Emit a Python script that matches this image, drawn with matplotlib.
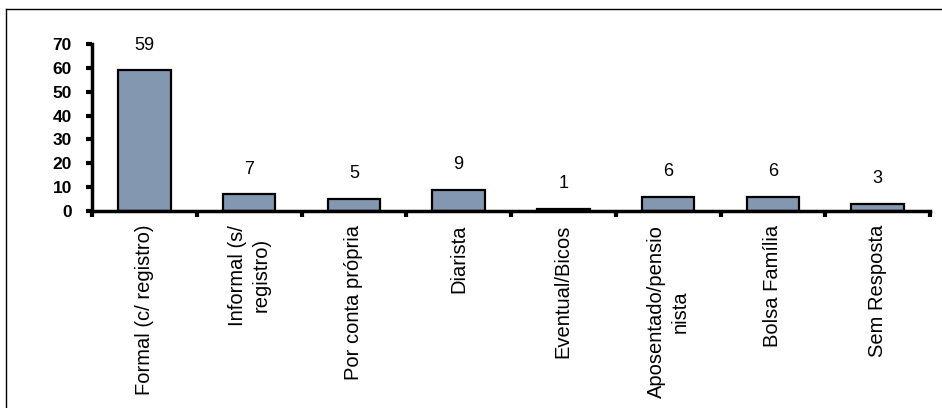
import matplotlib.pyplot as plt
import numpy as np
from matplotlib.lines import Line2D

plt.rcParams['font.family'] = ['Liberation Sans', 'DejaVu Sans']

categories = ['Formal (c/ registro)', 'Informal (s/\nregistro)', 'Por conta própria',
              'Diarista', 'Eventual/Bicos', 'Aposentado/pensio\nnista',
              'Bolsa Família', 'Sem Resposta']
values = [59, 7, 5, 9, 1, 6, 6, 3]
yticks = [0, 10, 20, 30, 40, 50, 60, 70]

W, H = 942, 408
fig = plt.figure(figsize=(W / 100, H / 100), dpi=100)
ax = fig.add_axes([92 / W, 1 - 211 / H, 838 / W, 167 / H])

x = np.arange(len(values))
ax.bar(x, values, width=0.5, color='#8497b0', edgecolor='black', linewidth=1.6, zorder=2)
for xi, v in zip(x, values):
    ax.annotate(str(v), (xi, v), xytext=(0, 12), textcoords='offset points',
                ha='center', va='bottom', fontsize=13)

ax.set_xlim(-0.5, len(values) - 0.5)
ax.set_ylim(0, 70)
ax.set_yticks(yticks)
ax.set_yticklabels([str(t) for t in yticks], fontsize=12.5, fontweight='bold')
ax.set_xticks(x)
ax.set_xticklabels(categories, rotation=90, fontsize=14.5, ha='center', va='top',
                   multialignment='center', linespacing=1.3)
ax.set_xticks(np.arange(len(values) + 1) - 0.5, minor=True)
ax.tick_params(axis='x', which='major', length=0, pad=10)
ax.tick_params(axis='x', which='minor', length=4, width=3, direction='out')
ax.tick_params(axis='y', length=4.5, width=3, direction='out', pad=10)

for s in ['top', 'right']:
    ax.spines[s].set_visible(False)
for s in ['left', 'bottom']:
    ax.spines[s].set_linewidth(2.5)
ax.spines['bottom'].set_zorder(3)

# outer frame of the chart area
fig.add_artist(Line2D([6 / W, 1], [1 - 9 / H, 1 - 9 / H], transform=fig.transFigure,
                      color='black', linewidth=1))
fig.add_artist(Line2D([6 / W, 6 / W], [0, 1 - 9 / H], transform=fig.transFigure,
                      color='black', linewidth=1))

fig.savefig('out.png', dpi=100)
